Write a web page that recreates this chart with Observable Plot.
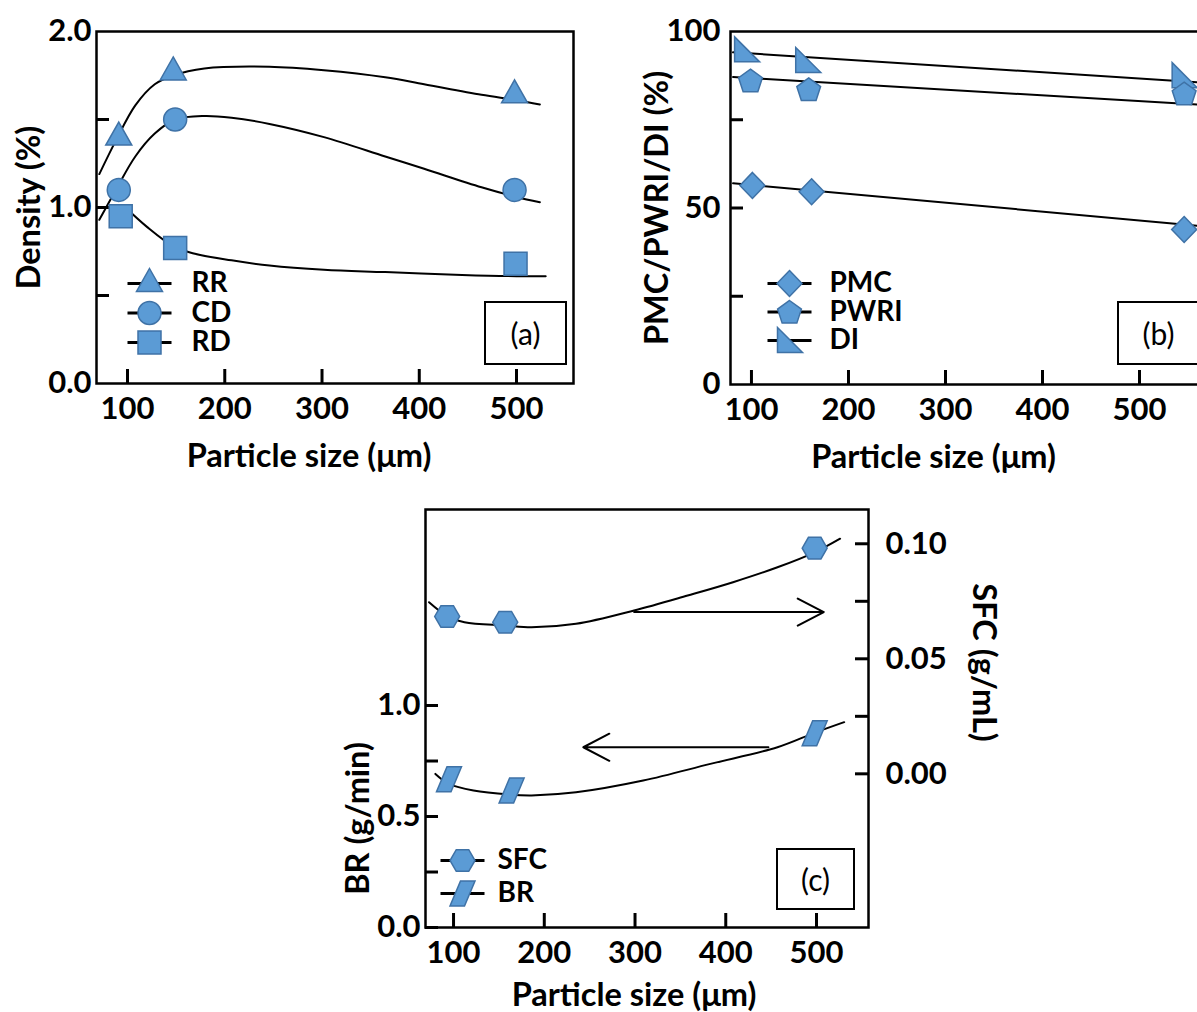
<!DOCTYPE html>
<html><head><meta charset="utf-8">
<script src="https://cdn.jsdelivr.net/npm/d3@7"></script>
<script src="https://cdn.jsdelivr.net/npm/@observablehq/plot@0.6"></script>
<style>
html,body{margin:0;padding:0;background:#fff;overflow:hidden;}
#wrap{position:relative;width:1197px;height:1012px;overflow:hidden;background:#fff;}
.panel{position:absolute;}
.panel svg{max-width:none !important;display:block;}
.tag{position:absolute;border:2px solid #000;box-sizing:border-box;display:flex;align-items:center;justify-content:center;font-size:30px;font-family:Lato,'Open Sans',sans-serif;background:#fff;color:#000;}
</style></head><body><div id="wrap"></div>
<script>
// ---------- DATA ----------
// shared x ticks (particle size, µm)
const sizeTicks = [100, 200, 300, 400, 500];

// Panel (a): density (%)
const rrSize = [91, 147, 498];   const rrValue = [1.40, 1.77, 1.64];
const cdSize = [91, 149, 498];   const cdValue = [1.10, 1.50, 1.10];
const rdSize = [93, 149, 499];   const rdValue = [0.95, 0.77, 0.68];
const rrFitSize = [71, 88, 108, 128, 147, 179, 246, 302, 365, 405, 464, 500, 524];
const rrFit     = [1.19, 1.38, 1.58, 1.70, 1.75, 1.79, 1.80, 1.78, 1.74, 1.70, 1.64, 1.61, 1.585];
const cdFitSize = [71, 88, 108, 128, 149, 179, 207, 246, 302, 365, 405, 464, 500, 524];
const cdFit     = [0.93, 1.10, 1.29, 1.42, 1.50, 1.52, 1.51, 1.475, 1.40, 1.29, 1.22, 1.115, 1.06, 1.03];
const rdFitSize = [96, 120, 147, 167, 207, 246, 302, 365, 444, 500, 530];
const rdFit     = [1.01, 0.89, 0.78, 0.74, 0.70, 0.67, 0.646, 0.633, 0.617, 0.61, 0.61];
const densityTicks = [0.5, 1.0, 1.5];
const densityLabels = [0, 1, 2];

// Panel (b): PMC / PWRI / DI (%)
const pmcSize = [101, 162, 546];  const pmcValue = [56.4, 54.6, 43.9];
const pwriSize = [99, 159, 546];  const pwriValue = [86.1, 83.6, 82.4];
const diSize = [95, 158, 546];    const diValue = [94.8, 91.8, 87.5];
const pmcFitSize = [81, 571];     const pmcFit = [57.0, 44.7];
const pwriFitSize = [81, 571];    const pwriFit = [87.1, 79.1];
const diFitSize = [81, 571];      const diFit = [94.1, 85.4];
const pctTicks = [25, 50, 75];
const pctLabels = [0, 50, 100];

// Panel (c): SFC (g/mL, right axis) and BR (g/min, left axis)
const sfcSize = [93, 157, 498];   const sfcValue = [0.0684, 0.0659, 0.0981];
const brSize = [95, 164, 498];    const brValue = [0.668, 0.617, 0.875];
const sfcFitSize = [73, 93, 112, 157, 186, 235, 299, 358, 408, 457, 498, 526];
const sfcFit     = [0.0746, 0.0686, 0.0659, 0.0645, 0.0637, 0.0652, 0.0710, 0.0775, 0.0833, 0.0898, 0.0963, 0.1022];
const brFitSize = [80, 95, 122, 161.5, 186, 235, 309, 383, 457, 498.5, 530.5];
const brFit     = [0.692, 0.647, 0.617, 0.599, 0.595, 0.609, 0.662, 0.737, 0.812, 0.878, 0.925];
const arrowFrom = [299, 447];      // x start (µm)
const arrowTo   = [508, 243];      // x end (µm)
const arrowLevel = [0.0703, 0.812]; // SFC level, BR level
const brTicks = [0, 0.25, 0.5, 0.75, 1.0];
const brLabels = [0, 0.5, 1.0];
const sfcTicks = [0, 0.025, 0.05, 0.075, 0.10];
const sfcLabels = [0, 0.05, 0.10];
const brDomain = [0, 1.883];
const sfcDomain = [-0.0668, 0.1149];

// ---------- STYLE ----------
const FONT = "Lato, 'Open Sans', sans-serif";
const FILL = "#5B9BD5", EDGE = "#3F72A6";
const TICKFS = 31, TITLEFS = 32.5, LEGFS = 28;

function poly(pts){ return {draw(ctx, size){ const s = Math.sqrt(size/Math.PI)/12;
  ctx.moveTo(pts[0][0]*s, pts[0][1]*s); for (let i=1;i<pts.length;i++) ctx.lineTo(pts[i][0]*s, pts[i][1]*s); ctx.closePath(); }}; }
const circleSym = {draw(ctx,size){ const r = Math.sqrt(size/Math.PI)*11.5/12; ctx.moveTo(r,0); ctx.arc(0,0,r,0,2*Math.PI); ctx.closePath(); }};
const triSym = poly([[0,-15],[13,8],[-13,8]]);
const squareSym = poly([[-11.5,-11.5],[11.5,-11.5],[11.5,11.5],[-11.5,11.5]]);
const diamondSym = poly([[0,-13],[12.5,0],[0,13],[-12.5,0]]);
const pentSym = poly(d3.range(5).map(k => [12.5*Math.cos(-Math.PI/2 + k*2*Math.PI/5), 12.5*Math.sin(-Math.PI/2 + k*2*Math.PI/5) + 1]));
const rtriSym = poly([[-12,-13],[13,12],[-12,12]]);
const hexSym = poly(d3.range(6).map(k => [12.5*Math.cos(k*Math.PI/3), 12.5*Math.sin(k*Math.PI/3)]));
const paraSym = poly([[-2,-12.5],[12.5,-12.5],[2,12.5],[-12.5,12.5]]);
const dashSym = {draw(ctx,size){ const s = Math.sqrt(size/Math.PI)/12; ctx.moveTo(-22*s,0); ctx.lineTo(22*s,0); }};

const rows = (xs, ys, f = v => v) => xs.map((x,i) => ({x, y: f(ys[i])}));
const fitLine = (xs, ys, curve, f) => Plot.line(rows(xs, ys, f), {x:"x", y:"y", curve, stroke:"black", strokeWidth:2});
const points = (xs, ys, sym, f) => Plot.dot(rows(xs, ys, f), {x:"x", y:"y", symbol: sym, r: 12, fill: FILL, stroke: EDGE, strokeWidth: 1.5});

function legendMarks(items, dx, dy0, step, labelDx){
  return items.flatMap((it, i) => [
    Plot.dot([it.name], {frameAnchor:"top-left", dx, dy: dy0 + i*step, symbol: dashSym, r: 12, stroke:"black", strokeWidth: 3, fill:"none"}),
    Plot.dot([it.name], {frameAnchor:"top-left", dx, dy: dy0 + i*step, symbol: it.sym, r: 12, fill: FILL, stroke: EDGE, strokeWidth: 1.5}),
    Plot.text([it.name], {frameAnchor:"top-left", dx: labelDx, dy: dy0 + i*step, text: d => d, textAnchor:"start", lineAnchor:"middle", fontSize: LEGFS, fontWeight:"bold"})
  ]);
}
const title = (t, o) => Plot.text([t], {textAnchor: "middle", lineAnchor: "middle", fontSize: TITLEFS, fontWeight: "bold", ...o});
function place(svg, left, top){
  const d = document.createElement("div"); d.className = "panel";
  d.style.left = left + "px"; d.style.top = top + "px";
  d.appendChild(svg); document.getElementById("wrap").appendChild(d);
}
function tag(text, left, top, w, h){
  const d = document.createElement("div"); d.className = "tag"; d.textContent = text;
  Object.assign(d.style, {left: left+"px", top: top+"px", width: w+"px", height: h+"px"});
  document.getElementById("wrap").appendChild(d);
}
const baseStyle = {fontFamily: FONT, fontWeight: "bold", color: "#000", background: "none"};

// ---------- PANEL (a) ----------
{
  const W=600, H=480, ml=96, mr=27, mt=31, mb=97, iw=W-ml-mr, ih=H-mt-mb;
  const svg = Plot.plot({
    width: W, height: H, marginLeft: ml, marginRight: mr, marginTop: mt, marginBottom: mb,
    x: {domain: [68.1, 558.6], label: null}, y: {domain: [0, 2], label: null},
    style: baseStyle,
    marks: [
      Plot.tickX(sizeTicks, {x: d => d, insetTop: ih - 14, strokeWidth: 3}),
      Plot.tickY(densityTicks, {y: d => d, insetRight: iw - 13, strokeWidth: 3}),
      Plot.axisX({ticks: sizeTicks, tickSize: 0, tickPadding: 13, fontSize: TICKFS, label: null}),
      Plot.axisY({ticks: densityLabels, tickSize: 0, tickPadding: 5, tickFormat: d3.format(".1f"), fontSize: TICKFS, label: null}),
      fitLine(rrFitSize, rrFit, "catmull-rom"),
      fitLine(cdFitSize, cdFit, "catmull-rom"),
      fitLine(rdFitSize, rdFit, "catmull-rom"),
      points(rrSize, rrValue, triSym),
      points(cdSize, cdValue, circleSym),
      points(rdSize, rdValue, squareSym),
      ...legendMarks([{name:"RR", sym: triSym},{name:"CD", sym: circleSym},{name:"RD", sym: squareSym}], 53, 252, 29.5, 95),
      title("Particle size (μm)", {frameAnchor:"bottom", dx: -26, dy: 73}),
      title("Density (%)", {frameAnchor:"left", dx: -67, rotate: -90}),
      Plot.frame({stroke:"black", strokeWidth: 2.5})
    ]
  });
  place(svg, 0, 0);
  tag("(a)", 484, 301, 83, 64);
}

// ---------- PANEL (b) ----------
{
  const W=640, H=480, ml=110, mr=52, mt=31, mb=96, iw=W-ml-mr, ih=H-mt-mb;
  const svg = Plot.plot({
    width: W, height: H, marginLeft: ml, marginRight: mr, marginTop: mt, marginBottom: mb,
    x: {domain: [78.4, 571.1], label: null}, y: {domain: [0, 100], label: null},
    style: baseStyle,
    marks: [
      Plot.tickX(sizeTicks, {x: d => d, insetTop: ih - 14, strokeWidth: 3}),
      Plot.tickY(pctTicks, {y: d => d, insetRight: iw - 13, strokeWidth: 3}),
      Plot.axisX({ticks: sizeTicks, tickSize: 0, tickPadding: 13, fontSize: TICKFS, label: null}),
      Plot.axisY({ticks: pctLabels, tickSize: 0, tickPadding: 10, tickFormat: d3.format("d"), fontSize: TICKFS, label: null}),
      fitLine(diFitSize, diFit, "linear"),
      fitLine(pwriFitSize, pwriFit, "linear"),
      fitLine(pmcFitSize, pmcFit, "linear"),
      points(diSize, diValue, rtriSym),
      points(pwriSize, pwriValue, pentSym),
      points(pmcSize, pmcValue, diamondSym),
      ...legendMarks([{name:"PMC", sym: diamondSym},{name:"PWRI", sym: pentSym},{name:"DI", sym: rtriSym}], 59, 252, 28.5, 99),
      title("Particle size (μm)", {frameAnchor:"bottom", dx: -36, dy: 73}),
      title("PMC/PWRI/DI (%)", {frameAnchor:"left", dx: -73, rotate: -90}),
      Plot.frame({stroke:"black", strokeWidth: 2.5})
    ]
  });
  place(svg, 620, 0);
  tag("(b)", 1117, 301, 83, 64);
}

// ---------- PANEL (c) ----------
{
  const W=760, H=532, ml=125, mr=192, mt=29, mb=85, iw=W-ml-mr, ih=H-mt-mb;
  const toBR = v => brDomain[0] + (v - sfcDomain[0]) / (sfcDomain[1] - sfcDomain[0]) * (brDomain[1] - brDomain[0]);
  const fromBR = v => sfcDomain[0] + (v - brDomain[0]) / (brDomain[1] - brDomain[0]) * (sfcDomain[1] - sfcDomain[0]);
  const arrows = arrowFrom.map((x1, i) => ({x1, x2: arrowTo[i], y: i === 0 ? toBR(arrowLevel[i]) : arrowLevel[i]}));
  const svg = Plot.plot({
    width: W, height: H, marginLeft: ml, marginRight: mr, marginTop: mt, marginBottom: mb,
    x: {domain: [69.1, 557.3], label: null}, y: {domain: brDomain, label: null},
    style: baseStyle,
    marks: [
      Plot.tickX(sizeTicks, {x: d => d, insetTop: ih - 14, strokeWidth: 3}),
      Plot.tickY(brTicks, {y: d => d, insetRight: iw - 13, strokeWidth: 3}),
      Plot.tickY(sfcTicks.map(toBR), {y: d => d, insetLeft: iw - 13, strokeWidth: 3}),
      Plot.axisX({ticks: sizeTicks, tickSize: 0, tickPadding: 13, fontSize: TICKFS, label: null}),
      Plot.axisY({ticks: brLabels, tickSize: 0, tickPadding: 5, tickFormat: d3.format(".1f"), fontSize: TICKFS, label: null}),
      Plot.axisY({anchor: "right", ticks: sfcLabels.map(toBR), tickSize: 0, tickPadding: 17,
        tickFormat: d => d3.format(".2f")(Math.round(fromBR(d) * 1000) / 1000), fontSize: TICKFS, label: null}),
      fitLine(sfcFitSize, sfcFit, "catmull-rom", toBR),
      fitLine(brFitSize, brFit, "catmull-rom"),
      Plot.arrow(arrows, {x1: "x1", x2: "x2", y1: "y", y2: "y", stroke: "black", strokeWidth: 2, headLength: 22, headAngle: 55}),
      points(sfcSize, sfcValue, hexSym, toBR),
      points(brSize, brValue, paraSym),
      ...legendMarks([{name:"SFC", sym: hexSym},{name:"BR", sym: paraSym}], 37, 351, 33, 72),
      title("Particle size (μm)", {frameAnchor:"bottom", dx: -13, dy: 68}),
      title("BR (g/min)", {frameAnchor:"left", dx: -67, dy: 100, rotate: -90}),
      title("SFC (g/mL)", {frameAnchor:"right", dx: 115, dy: -56, rotate: 90}),
      Plot.frame({stroke:"black", strokeWidth: 2.5})
    ]
  });
  place(svg, 300, 480);
  tag("(c)", 776, 848, 79, 62);
}
</script></body></html>
